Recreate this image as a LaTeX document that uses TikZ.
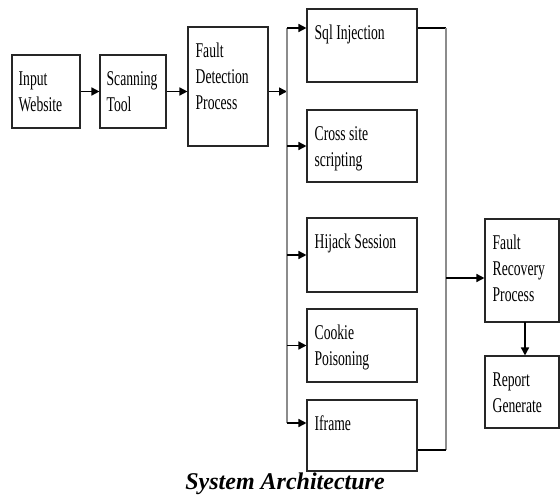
\documentclass[tikz,border=0pt]{standalone}
\usepackage{fontspec}
\setmainfont{Liberation Serif}
\newfontfamily\boxfont[FakeStretch=0.65]{Liberation Serif}
\usetikzlibrary{arrows.meta,fit,calc}
\begin{document}
\begin{tikzpicture}[x=1pt,y=-1pt,
  box/.style={draw=black!85, line width=1.1pt, inner sep=0pt},
  lbl/.style={anchor=north west, inner sep=0pt, align=left, font=\boxfont\fontsize{21}{26}\selectfont},
  arr/.style={-{Triangle[length=8pt,width=8pt]}, line width=1.5pt},
  bus/.style={draw=black!45, line width=1.4pt},
  ln/.style={line width=1.5pt}]
\useasboundingbox (0,0) rectangle (560,496);

% boxes
\node[box, fit={(12,55) (80,128)}] (inp) {};
\node[box, fit={(100,55) (166,128)}] (scan) {};
\node[box, fit={(188,27) (268,146)}] (fd) {};
\node[box, fit={(307,9) (417,82)}] (sql) {};
\node[box, fit={(307,110) (417,182)}] (cs) {};
\node[box, fit={(307,218) (417,292)}] (hj) {};
\node[box, fit={(307,309) (417,382)}] (ck) {};
\node[box, fit={(307,400) (417,471)}] (ifr) {};
\node[box, fit={(485,219) (559,322)}] (rec) {};
\node[box, fit={(485,356) (559,428)}] (rep) {};

% labels
\node[lbl] (inpt) at ($(inp.north west)+(7,12.8)$) {\strut Input\\Website};
\node[lbl] (scant) at ($(scan.north west)+(7,12.8)$) {\strut Scanning\\Tool};
\node[lbl] (fdt) at ($(fd.north west)+(8,12.8)$) {\strut Fault\\Detection\\Process};
\node[lbl] (sqlt) at ($(sql.north west)+(8,12.8)$) {\strut Sql Injection};
\node[lbl] (cst) at ($(cs.north west)+(8,12.8)$) {\strut Cross site\\scripting};
\node[lbl] (hjt) at ($(hj.north west)+(8,12.8)$) {\strut Hijack Session};
\node[lbl] (ckt) at ($(ck.north west)+(8,12.8)$) {\strut Cookie\\Poisoning};
\node[lbl] (ifrt) at ($(ifr.north west)+(8,12.8)$) {\strut Iframe};
\node[lbl] (rect) at ($(rec.north west)+(8,12.8)$) {\strut Fault\\Recovery\\Process};
\node[lbl] (rept) at ($(rep.north west)+(8,12.8)$) {\strut Report\\Generate};

% bus coordinates
\coordinate (bt) at (287,28);
\coordinate (bb) at (287,423);
\coordinate (rt) at (446,28);
\coordinate (rb) at (446,450);
\coordinate (rm) at (446,278);
\coordinate (ra) at (525,322);

% connectors
\draw[arr] (inp.east) -- (inp.east -| scan.west);
\draw[arr] (scan.east) -- (scan.east -| fd.west);
\draw[arr] (fd.east |- scan.east) -- (bt |- scan.east);
\draw[bus] (bt) -- (bb);
\draw[arr] (bt) -- (bt -| sql.west);
\draw[arr] (bt |- cs.west) -- (cs.west);
\draw[arr] (bt |- hj.west) -- (hj.west);
\draw[arr] (bt |- ck.west) -- (ck.west);
\draw[arr] (bb) -- (bb -| ifr.west);
\draw[ln] (sql.east |- rt) -- (rt);
\draw[bus] (rt) -- (rb);
\draw[ln] (rb) -- (rb -| ifr.east);
\draw[arr] (rm) -- (rm -| rec.west);
\draw[arr] (ra) -- (ra |- rep.north);

% caption
\node[font=\bfseries\itshape\fontsize{24}{26}\selectfont, anchor=base, inner sep=0pt] (cap) at (285,489) {System Architecture};
\end{tikzpicture}
\end{document}
